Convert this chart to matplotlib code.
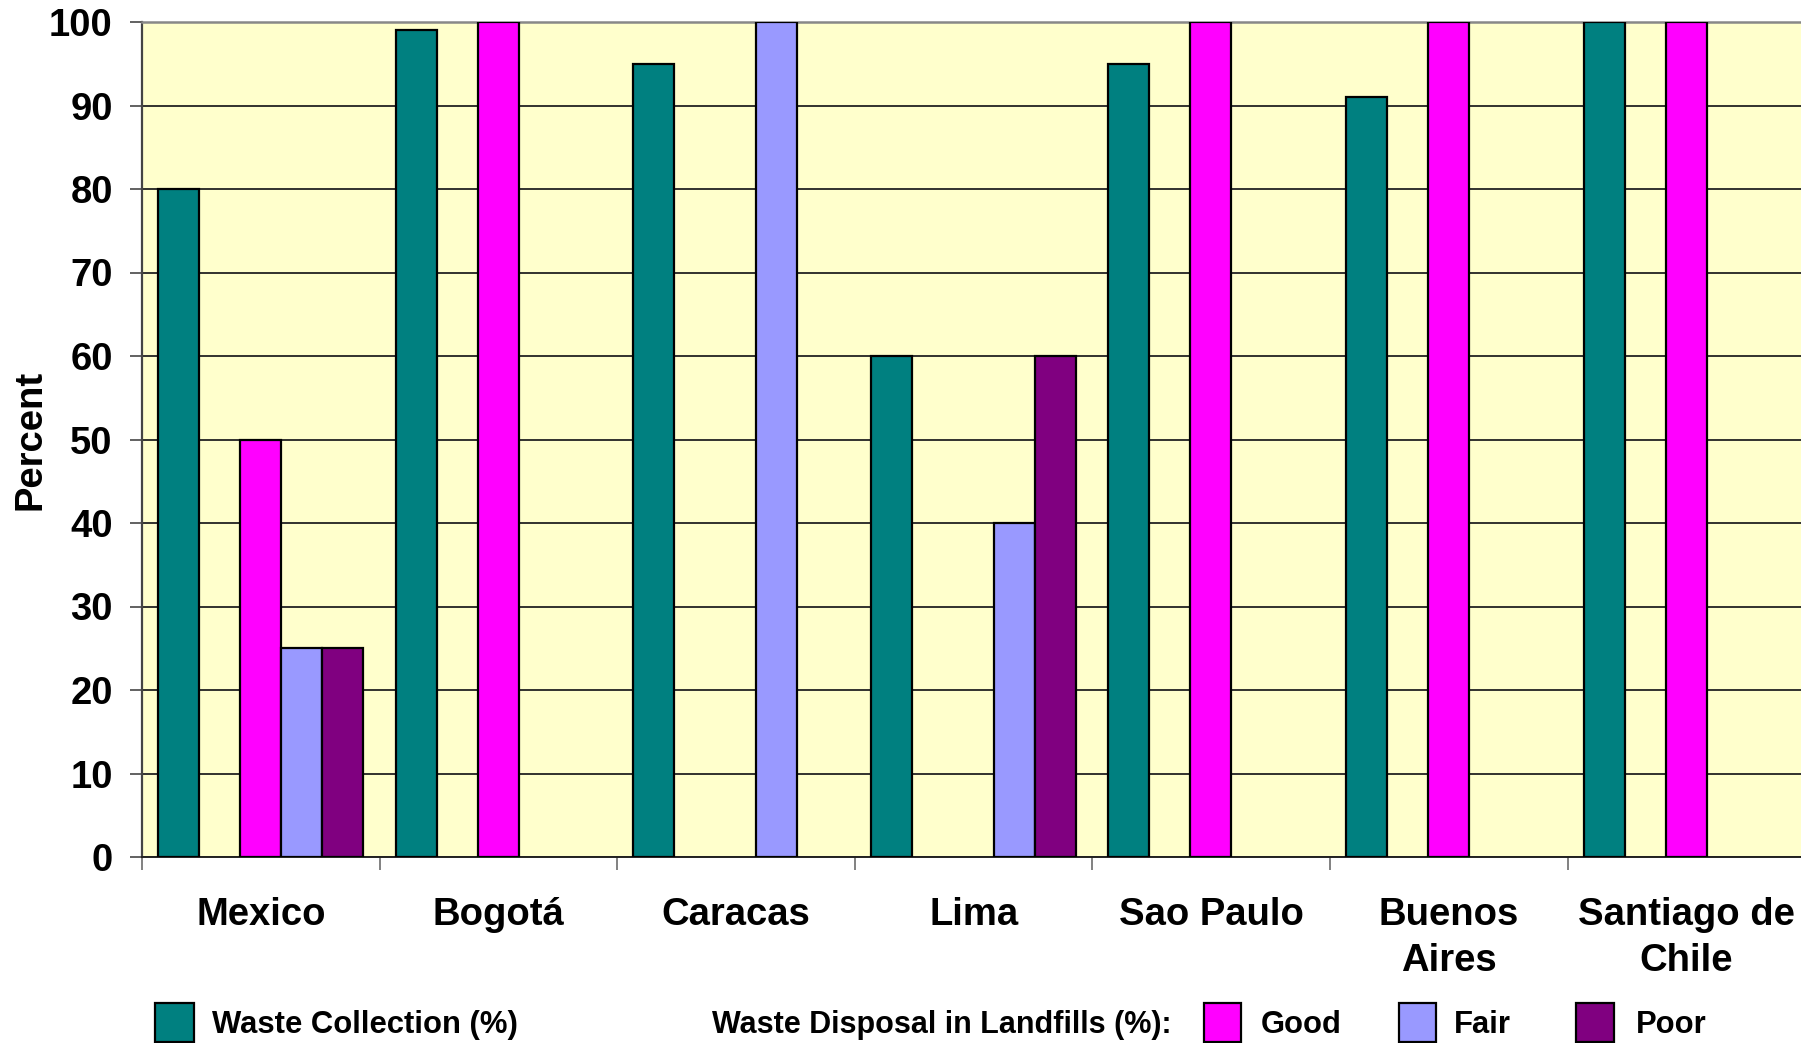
import numpy as np
import matplotlib
matplotlib.use("Agg")
import matplotlib.pyplot as plt
from matplotlib.patches import Rectangle

plt.rcParams['font.family'] = ['Liberation Sans', 'DejaVu Sans']
plt.rcParams['font.weight'] = 'bold'

# Data
cities = ["Mexico", "Bogotá", "Caracas", "Lima", "Sao Paulo", "Buenos\nAires", "Santiago de\nChile"]
collection = [80, 99, 95, 60, 95, 91, 100]
disposal_good = [50, 100, np.nan, np.nan, 100, 100, 100]
disposal_fair = [25, np.nan, 100, 40, np.nan, np.nan, np.nan]
disposal_poor = [25, np.nan, np.nan, 60, np.nan, np.nan, np.nan]
y_ticks = list(range(0, 101, 10))

colors = {"collection": "#008080", "good": "#FF00FF", "fair": "#9999FF", "poor": "#800080"}
bg = "#FFFFCC"

W, H = 1801, 1043
CW = 237.6  # pixel width of one city group
fig = plt.figure(figsize=(W / 100, H / 100), dpi=100)
ax = fig.add_axes([142 / W, 186 / H, 7 * CW / W, 835 / H])
ax.set_facecolor(bg)

# 5 slots per city: collection, (spacer), good, fair, poor
bw = 41 / CW
off = 16 / CW
series = [(collection, 0, colors["collection"]),
          (disposal_good, 2, colors["good"]),
          (disposal_fair, 3, colors["fair"]),
          (disposal_poor, 4, colors["poor"])]
x = np.arange(len(cities))
for vals, slot, col in series:
    v = np.array(vals, dtype=float)
    m = ~np.isnan(v)
    ax.bar(x[m] + off + bw * (slot + 0.5), v[m], width=bw, color=col,
           edgecolor="black", linewidth=1.6, zorder=3)

ax.set_xlim(0, len(cities))
ax.set_ylim(0, 100)
ax.set_yticks(y_ticks)
ax.set_yticklabels([str(t) for t in y_ticks], fontsize=27.5, fontweight='bold')
ax.yaxis.grid(True, color="#222222", linewidth=1.3, zorder=1)
ax.tick_params(axis='y', length=9, width=1.3, color="#555555", pad=12)

ax.set_xticks(np.arange(len(cities) + 1))
ax.set_xticklabels([])
ax.tick_params(axis='x', which='major', length=9, width=1.3, color="#777777", direction='out')
ax.set_xticks(x + 0.5, minor=True)
ax.set_xticklabels(cities, minor=True, fontsize=27.5, fontweight='bold', linespacing=1.34)
ax.tick_params(axis='x', which='minor', length=0, pad=29)

ax.spines['right'].set_visible(False)
ax.spines['top'].set_color("#888888")
ax.spines['top'].set_linewidth(1.8)
ax.spines['left'].set_color("#444444")
ax.spines['left'].set_linewidth(1.6)
ax.spines['bottom'].set_color("#222222")
ax.spines['bottom'].set_linewidth(1.4)

ax.set_ylabel("Percent", fontsize=27.5, fontweight='bold')
ax.yaxis.set_label_coords(-94 / (7 * CW), 0.5)


def swatch(x0, x1, color):
    fig.add_artist(Rectangle((x0 / W, (H - 1042) / H), (x1 - x0) / W, 39 / H,
                             transform=fig.transFigure, facecolor=color,
                             edgecolor="black", linewidth=1.6))


ty = (H - 1025) / H
swatch(155, 194, colors["collection"])
fig.text(212 / W, ty, "Waste Collection (%)", fontsize=22.3, fontweight='bold', va='center')
fig.text(712 / W, ty, "Waste Disposal in Landfills (%):", fontsize=22, fontweight='bold', va='center')
swatch(1204, 1241, colors["good"])
fig.text(1261 / W, ty, "Good", fontsize=22.3, fontweight='bold', va='center')
swatch(1399, 1436, colors["fair"])
fig.text(1454 / W, ty, "Fair", fontsize=22.3, fontweight='bold', va='center')
swatch(1576, 1614, colors["poor"])
fig.text(1636 / W, ty, "Poor", fontsize=22.3, fontweight='bold', va='center')

fig.savefig("out.png", dpi=100)
